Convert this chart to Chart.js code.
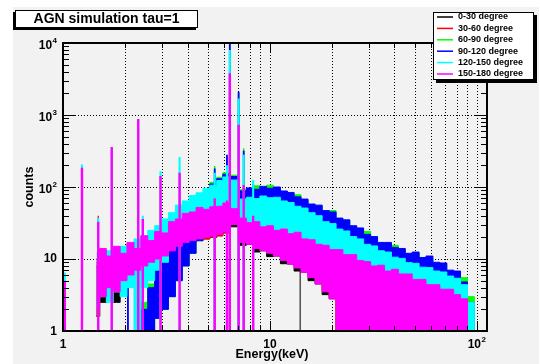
<!DOCTYPE html>
<html>
<head>
<meta charset="utf-8">
<title>AGN simulation tau=1</title>
<script src="https://cdn.jsdelivr.net/npm/chart.js@4.4.1/dist/chart.umd.min.js"></script>
<style>
  html, body { margin: 0; padding: 0; background: #ffffff; }
  canvas { display: block; }
</style>
</head>
<body>
<canvas id="spectrum" width="540" height="364"></canvas>
<script>
// Energy bin centres (keV)
const energyKeV = [
  1.45, 1.56, 1.68, 1.82, 1.96, 2.12, 2.29, 2.47, 2.67, 2.88,
  3.11, 3.36, 3.63, 3.92, 4.23, 4.57, 4.93, 5.32, 5.75, 6.1,
  6.75, 7.4, 8.0, 8.6, 9.3, 10.0, 10.8, 11.7, 12.6, 13.6,
  14.7, 15.9, 17.2, 18.6, 20.1, 21.7, 23.4, 25.3, 27.3, 29.5,
  31.9, 34.4, 37.2, 40.2, 43.4, 46.9, 50.6, 54.7, 59.0, 63.8,
  68.9, 74.4, 80.3, 86.7, 93.7, 101
];

// Upper / lower edge of the fluctuating counts in each bin, per angle range
const deg0_30High = [
  8, 12, 10, 13, 11, 15, 13, 18, 16, 21,
  21, 29, 32, 37, 40, 45, 44, 47, 48, 53,
  44, 32, 29, 29, 25, 26, 22, 23, 20, 21,
  17, 16, 14, 13, 11, 5, 4, 3, 1, 1,
  1, 1, 1, 1, 1, 1, 1, 1, 1, 1,
  1, 1, 1, 1, 1, 1
];
const deg0_30Low = [
  1.6, 2.5, 3.5, 2.5, 4.5, 5.5, 6, 7, 8.5, 9,
  10, 12, 14, 16, 17, 18, 19, 20, 21, 23,
  28, 15.5, 16, 12.5, 13, 10.8, 11, 8.6, 8.5, 6.8,
  6.5, 5, 4.5, 3.2, 2.8, 1, 1, 1, 1, 1,
  1, 1, 1, 1, 1, 1, 1, 1, 1, 1,
  1, 1, 1, 1, 1, 1
];
const deg30_60High = [
  10, 13, 12, 14, 13, 16, 15, 19, 19, 22,
  26, 31, 38, 41, 47, 50, 52, 51, 57, 61,
  54, 42, 33, 39, 29, 35, 26, 31, 23, 27,
  18, 19, 16, 14, 14, 12, 11, 10.5, 9, 8.8,
  7.8, 7.8, 6.6, 7, 6, 6, 5, 5, 4.2, 4.2,
  3.6, 3.6, 3, 2.6, 1, 1
];
const deg30_60Low = [
  1.6, 3, 3.5, 3.5, 4.5, 6, 6.5, 7.5, 8.5, 9.5,
  10.5, 12.5, 14.5, 16, 17, 18, 19, 20, 21, 23,
  31, 18, 17, 15, 14, 13, 12, 10, 9, 8,
  7, 6, 5, 3.7, 3, 1, 1, 1, 1, 1,
  1, 1, 1, 1, 1, 1, 1, 1, 1, 1,
  1, 1, 1, 1, 1, 1
];
const deg60_90High = [
  1, 1, 1, 1, 1, 1, 1, 2.5, 4.5, 7.5,
  11, 16, 23, 31, 40, 52, 84, 116, 136, 158,
  146, 92, 94, 104, 99, 106, 97, 85, 81, 78,
  66, 56, 54, 46, 47, 36, 34, 28, 26, 24,
  19.5, 16.5, 16.5, 15.5, 13.5, 11.6, 12, 10.2, 10.2, 8.7,
  8.5, 6.8, 6.6, 5.5, 3, 1
];
const deg90_120High = [
  1, 1, 1, 1, 1, 1, 1, 2, 4, 7,
  10, 15, 22, 30, 38, 50, 80, 110, 130, 150,
  140, 88, 97, 93, 102, 96, 100, 88, 84, 73,
  68, 58, 56, 47, 45, 37, 35, 29, 27, 22,
  20.5, 17, 17, 14.5, 14, 12, 12.5, 10.5, 11, 9,
  8.8, 7, 6.8, 4.8, 2.5, 1
];
const deg90_120Low = [
  1, 1, 1, 1, 1, 1, 1, 1, 1, 1.5,
  2, 3, 5, 8, 12, 18, 30, 45, 60, 70,
  65, 50, 52, 54, 55, 56, 54, 50, 46, 42,
  38, 34, 30, 27, 24, 21, 19, 17, 15, 13,
  11, 10, 9, 8, 7.5, 7, 6.5, 6, 5.5, 5,
  4.5, 4, 3, 1, 1, 1
];
const deg120_150High = [
  12, 10, 13, 11, 15, 15, 19, 21, 25, 29,
  36, 44, 56, 64, 76, 83, 96, 106, 123, 138,
  125, 68, 72, 69, 75, 71, 72, 64, 61, 54,
  51, 44, 40, 33, 31, 26, 24.5, 20.5, 19, 16,
  15.2, 13, 12.5, 10.6, 10.2, 8.9, 8.7, 7.7, 7.6, 6.8,
  6.6, 5.8, 5.4, 4.4, 2.5, 1
];
const deg120_150Low = [
  2, 3, 2.5, 3.5, 3, 4, 1, 4, 5, 7,
  9, 14, 18, 22, 26, 30, 32, 33, 36, 40,
  35, 28, 27, 25, 24, 23, 22, 20, 19, 17,
  15, 13, 12, 11, 10, 9, 8, 7, 6.5, 6,
  5.5, 5, 4.8, 4.5, 4.2, 4, 3.8, 3.5, 3.2, 3,
  2.8, 2.5, 2, 1, 1, 1
];
const deg150_180High = [
  9, 14, 11, 15, 12, 17, 14, 21, 18, 24,
  23, 33, 36, 43, 45, 52, 49, 53, 54, 60,
  50, 37, 32, 33, 28, 29, 25, 26, 22.5, 23.5,
  19, 18.5, 16, 15.5, 13.5, 13.5, 11.5, 11.5, 9.5, 9.2,
  8, 8.2, 6.8, 7.2, 6.2, 6.2, 5.2, 5.2, 4.4, 4.4,
  3.8, 3.8, 3.2, 2.8, 1, 1
];
const deg150_180Low = [
  2, 3, 4, 3.5, 5, 6, 7, 8, 9, 10,
  11, 13, 15, 17, 18, 19, 20, 21, 22, 24,
  30, 17, 16, 14, 13, 12, 11, 9.5, 8.5, 7.5,
  6.5, 5.5, 4.5, 3.5, 2.8, 1, 1, 1, 1, 1,
  1, 1, 1, 1, 1, 1, 1, 1, 1, 1,
  1, 1, 1, 1, 1, 1
];

// Narrow features: energy (keV) and peak counts per angle range
const lineKeV = [1.02, 1.235, 1.48, 1.72, 2.06, 2.31, 2.43, 2.96, 3.66, 5.41, 6.2, 6.4, 7.06, 7.47, 8.3, 14.0];
const deg0_30Lines    = [1, 150, 30, 300, 1, 700, 1, 115, 140, 1, 1, 3300, 650, 1, 1, 7];
const deg30_60Lines   = [1, 160, 40, 320, 1, 760, 1, 130, 150, 1, 1, 3500, 700, 1, 1, 1];
const deg60_90Lines   = [1, 1, 1, 1, 1, 1, 1, 1, 1, 195, 260, 9500, 2000, 345, 115, 1];
const deg90_120Lines  = [1, 1, 1, 1, 6.4, 4, 3.2, 1, 1, 180, 280, 10500, 2100, 320, 110, 1];
const deg120_150Lines = [6.5, 205, 37, 340, 1, 820, 40, 165, 260, 158, 200, 8000, 1700, 280, 125, 1];
const deg150_180Lines = [5, 185, 33, 360, 1, 880, 36, 142, 158, 70, 65, 3800, 730, 107, 40, 1];

const seriesNames  = ['0-30 degree', '30-60 degree', '60-90 degree', '90-120 degree', '120-150 degree', '150-180 degree'];
const seriesColors = ['#000000', '#ff0000', '#00ff00', '#0000ff', '#00ffff', '#ff00ff'];
const seriesHigh   = [deg0_30High, deg30_60High, deg60_90High, deg90_120High, deg120_150High, deg150_180High];
const seriesLow    = [deg0_30Low, deg30_60Low, deg90_120Low, deg90_120Low, deg120_150Low, deg150_180Low];
const seriesLines  = [deg0_30Lines, deg30_60Lines, deg60_90Lines, deg90_120Lines, deg120_150Lines, deg150_180Lines];
// later ranges draw their lines a little wider so they cover the ones beneath
const lineWidths   = [1, 1.2, 1.5, 1.8, 2.1, 2.4];

// Axis labels: [mantissa, exponent]
const xTickValues = [1, 10, 100];
const xTickLabels = [['1', ''], ['10', ''], ['10', '2']];
const yTickValues = [1, 10, 100, 1000, 10000];
const yTickLabels = [['1', ''], ['10', ''], ['10', '2'], ['10', '3'], ['10', '4']];

const FONT = '"Liberation Sans", Arial, Helvetica, sans-serif';
const PAD_BG = '#f2f2f2';

// 1..9 steps of every decade, used for ticks and the vertical grid
function decadeSteps(from, to) {
  const out = [];
  for (let d = from; d < to; d *= 10) {
    for (let m = 1; m < 10; m++) out.push(m * d);
  }
  out.push(to);
  return out;
}

function drawPower(ctx, base, exp, x, y, align) {
  ctx.font = 'bold 12px ' + FONT;
  const wb = ctx.measureText(base).width;
  ctx.font = 'bold 8px ' + FONT;
  const we = exp ? ctx.measureText(exp).width + 0.5 : 0;
  const x0 = align === 'right' ? x - wb - we : x - (wb + we) / 2;
  ctx.textAlign = 'left';
  ctx.textBaseline = 'middle';
  ctx.font = 'bold 12px ' + FONT;
  ctx.fillText(base, x0, y);
  if (exp) {
    ctx.font = 'bold 8px ' + FONT;
    ctx.fillText(exp, x0 + wb + 0.5, y - 5);
  }
}

const rootPad = {
  id: 'rootPad',
  beforeDraw(chart) {
    const ctx = chart.ctx;
    ctx.save();
    ctx.fillStyle = '#ffffff';
    ctx.fillRect(0, 0, chart.width, chart.height);
    ctx.fillStyle = PAD_BG;
    ctx.fillRect(13, 7, 526, 357);
    ctx.restore();
  },
  beforeDatasetsDraw(chart) {
    // dotted grid behind the histograms
    const ctx = chart.ctx;
    const { left, right, top, bottom } = chart.chartArea;
    const xs = chart.scales.x, ys = chart.scales.y;
    ctx.save();
    ctx.strokeStyle = '#000000';
    ctx.lineWidth = 1;
    ctx.setLineDash([1, 2]);
    ctx.beginPath();
    decadeSteps(1, 100).forEach(v => {
      if (v <= 1) return;
      const px = Math.round(xs.getPixelForValue(v)) + 0.5;
      ctx.moveTo(px, top);
      ctx.lineTo(px, bottom);
    });
    [10, 100, 1000].forEach(v => {
      const py = Math.round(ys.getPixelForValue(v)) + 0.5;
      ctx.moveTo(left, py);
      ctx.lineTo(right, py);
    });
    ctx.stroke();
    ctx.restore();
  },
  afterDatasetsDraw(chart) {
    const ctx = chart.ctx;
    const { left, right, top, bottom } = chart.chartArea;
    const xs = chart.scales.x, ys = chart.scales.y;
    ctx.save();

    // frame
    ctx.strokeStyle = '#000000';
    ctx.lineWidth = 2;
    ctx.strokeRect(left, top, right - left, bottom - top);

    // ticks on all four sides
    ctx.lineWidth = 1;
    ctx.beginPath();
    decadeSteps(1, 100).forEach(v => {
      const px = Math.round(xs.getPixelForValue(v)) + 0.5;
      const len = xTickValues.includes(v) ? 10 : 5;
      ctx.moveTo(px, bottom); ctx.lineTo(px, bottom - len);
      ctx.moveTo(px, top); ctx.lineTo(px, top + len);
    });
    decadeSteps(1, 10000).forEach(v => {
      const py = Math.round(ys.getPixelForValue(v)) + 0.5;
      const len = yTickValues.includes(v) ? 12 : 6;
      ctx.moveTo(left, py); ctx.lineTo(left + len, py);
      ctx.moveTo(right, py); ctx.lineTo(right - len, py);
    });
    ctx.stroke();

    // tick labels
    ctx.fillStyle = '#000000';
    xTickValues.forEach((v, i) => {
      drawPower(ctx, xTickLabels[i][0], xTickLabels[i][1], xs.getPixelForValue(v), 344.5, 'center');
    });
    yTickValues.forEach((v, i) => {
      const [b, e] = yTickLabels[i];
      const dy = e ? 2.5 : (v === 1 ? 1 : 0);
      drawPower(ctx, b, e, 57, ys.getPixelForValue(v) + dy, 'right');
    });

    // axis titles
    ctx.font = 'bold 12.5px ' + FONT;
    ctx.textAlign = 'center';
    ctx.textBaseline = 'middle';
    ctx.fillText('Energy(keV)', 272, 355);
    ctx.save();
    ctx.translate(30, 187);
    ctx.rotate(-Math.PI / 2);
    ctx.fillText('counts', 0, 0);
    ctx.restore();

    // title box
    ctx.fillStyle = '#000000';
    ctx.fillRect(13, 12, 183, 18);
    ctx.fillStyle = '#ffffff';
    ctx.fillRect(15, 10, 183, 18);
    ctx.strokeStyle = '#000000';
    ctx.lineWidth = 1;
    ctx.strokeRect(15.5, 10.5, 182, 17);
    ctx.fillStyle = '#000000';
    ctx.font = 'bold 14px ' + FONT;
    ctx.fillText('AGN simulation tau=1', 106.5, 19.5);

    // legend box
    ctx.fillStyle = '#000000';
    ctx.fillRect(436, 15, 101, 68);
    ctx.fillStyle = '#ffffff';
    ctx.fillRect(433, 12, 101, 68);
    ctx.strokeRect(433.5, 12.5, 100, 67);
    ctx.font = 'bold 9px ' + FONT;
    ctx.textAlign = 'left';
    seriesNames.forEach((name, i) => {
      const y = 17 + i * 11.4;
      ctx.strokeStyle = seriesColors[i];
      ctx.lineWidth = 1.5;
      ctx.beginPath();
      ctx.moveTo(437, y);
      ctx.lineTo(453, y);
      ctx.stroke();
      ctx.fillStyle = '#000000';
      ctx.fillText(name, 458, y);
    });
    ctx.restore();
  }
};

// Each angle range: lower edge, filled band up to the upper edge, then its lines.
// Higher "order" is drawn first, so later ranges sit on top.
const datasets = [];
seriesNames.forEach((name, i) => {
  const base = (seriesNames.length - i) * 10;
  const color = seriesColors[i];
  datasets.push({
    label: name + ' (low)',
    data: energyKeV.map((e, k) => ({ x: e, y: seriesLow[i][k] })),
    borderColor: color,
    borderWidth: 1,
    pointRadius: 0,
    stepped: 'middle',
    fill: false,
    order: base + 2
  });
  datasets.push({
    label: name,
    data: energyKeV.map((e, k) => ({ x: e, y: seriesHigh[i][k] })),
    borderColor: color,
    backgroundColor: color,
    borderWidth: 1,
    pointRadius: 0,
    stepped: 'middle',
    fill: '-1',
    order: base + 1
  });
  const lines = [];
  lineKeV.forEach((e, k) => {
    const h = seriesLines[i][k];
    if (h > 1) lines.push({ x: e, y: 1 }, { x: e, y: h }, { x: e, y: null });
  });
  datasets.push({
    label: name + ' (lines)',
    data: lines,
    borderColor: color,
    borderWidth: lineWidths[i],
    pointRadius: 0,
    spanGaps: false,
    fill: false,
    order: base
  });
});

new Chart(document.getElementById('spectrum').getContext('2d'), {
  type: 'line',
  data: { datasets },
  options: {
    responsive: false,
    animation: false,
    devicePixelRatio: 1,
    layout: { padding: { left: 63, right: 53, top: 43, bottom: 33 } },
    scales: {
      x: { type: 'logarithmic', min: 1, max: 112, display: false },
      y: { type: 'logarithmic', min: 1, max: 10000, display: false }
    },
    plugins: {
      legend: { display: false },
      tooltip: { enabled: false },
      filler: { propagate: false }
    }
  },
  plugins: [rootPad]
});
</script>
</body>
</html>
